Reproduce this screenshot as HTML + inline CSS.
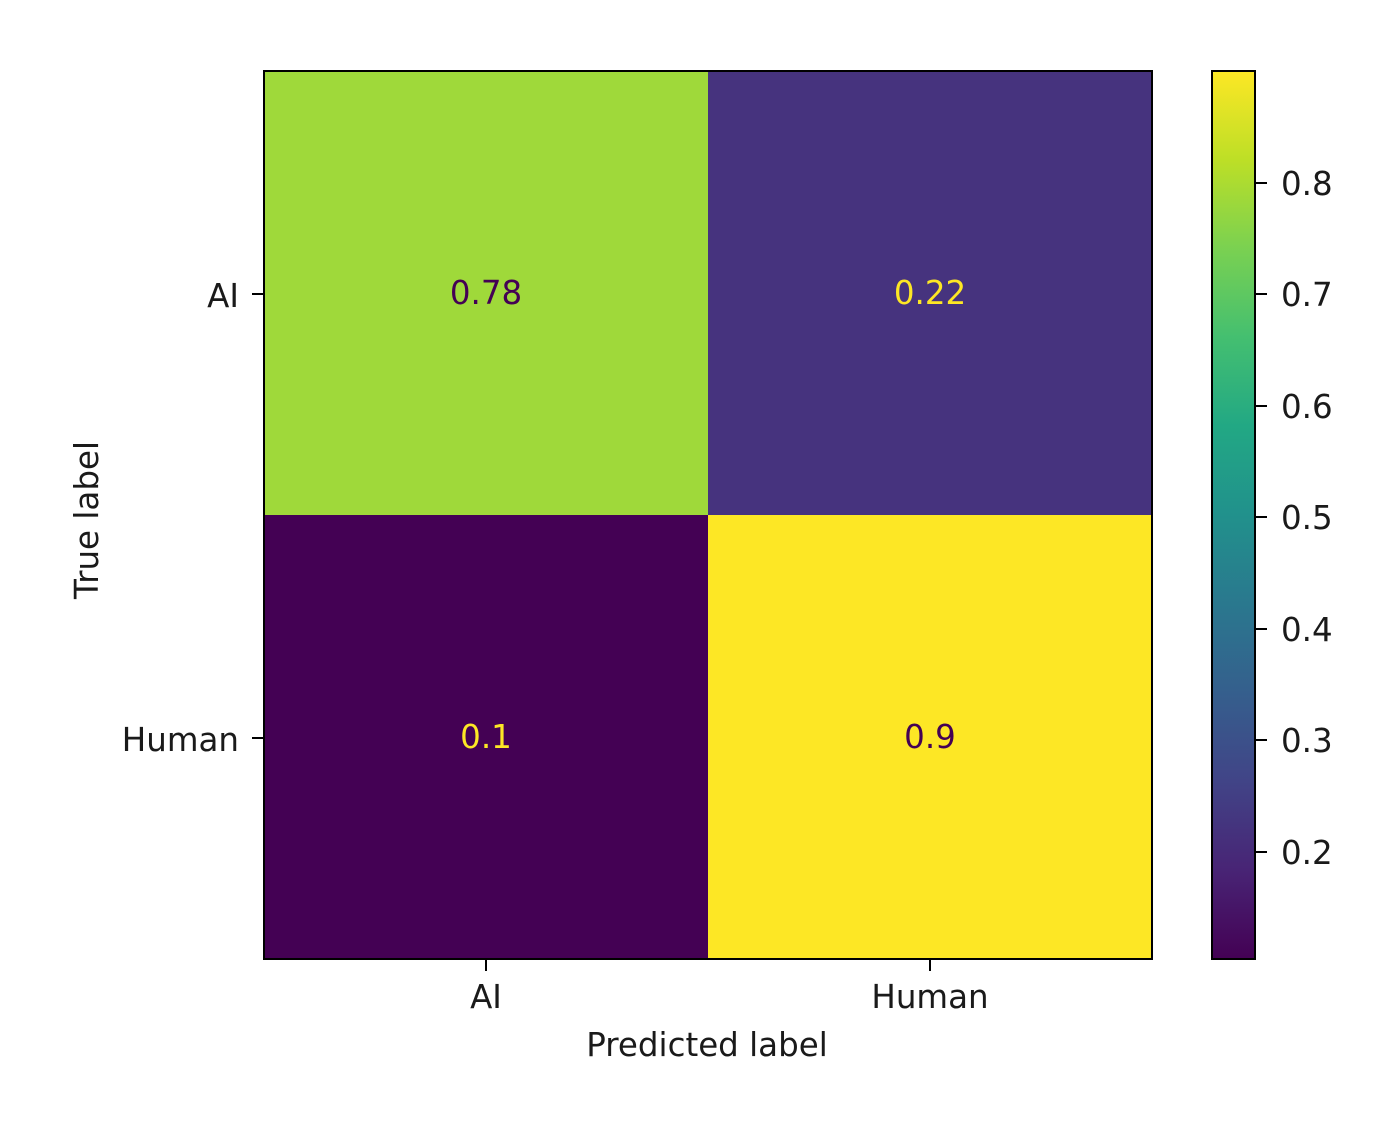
<!DOCTYPE html>
<html><head><meta charset="utf-8"><style>
html,body{margin:0;padding:0;background:#fff;}
svg text{font-family:"DejaVu Sans","Liberation Sans",sans-serif;font-size:32.5px;fill:#1a1a1a;}
</style></head><body>
<svg width="1378" height="1142" viewBox="0 0 1378 1142" xmlns="http://www.w3.org/2000/svg">
<defs>
<linearGradient id="vir" x1="0" y1="1" x2="0" y2="0">
<stop offset="0" stop-color="#440154"/>
<stop offset="0.1" stop-color="#482475"/>
<stop offset="0.2" stop-color="#414487"/>
<stop offset="0.3" stop-color="#355f8d"/>
<stop offset="0.4" stop-color="#2a788e"/>
<stop offset="0.5" stop-color="#21918c"/>
<stop offset="0.6" stop-color="#22a884"/>
<stop offset="0.7" stop-color="#44bf70"/>
<stop offset="0.8" stop-color="#7ad151"/>
<stop offset="0.9" stop-color="#bddf26"/>
<stop offset="1" stop-color="#fde725"/>
</linearGradient>
</defs>
<rect x="264" y="71" width="444" height="444" fill="#9fd93a"/>
<rect x="708" y="71" width="444" height="444" fill="#46337e"/>
<rect x="264" y="515" width="444" height="444" fill="#440154"/>
<rect x="708" y="515" width="444" height="444" fill="#fde725"/>
<rect x="264" y="71" width="888" height="888" fill="none" stroke="#000" stroke-width="2"/>
<text x="486" y="304" text-anchor="middle" style="fill:#440154">0.78</text>
<text x="930" y="304" text-anchor="middle" style="fill:#fde725">0.22</text>
<text x="486" y="748" text-anchor="middle" style="fill:#fde725">0.1</text>
<text x="930" y="748" text-anchor="middle" style="fill:#440154">0.9</text>
<g stroke="#000" stroke-width="2">
<line x1="252" y1="294" x2="264" y2="294"/>
<line x1="252" y1="738" x2="264" y2="738"/>
<line x1="486" y1="959" x2="486" y2="971"/>
<line x1="930" y1="959" x2="930" y2="971"/>
</g>
<text x="239" y="307" text-anchor="end">AI</text>
<text x="239" y="751" text-anchor="end">Human</text>
<text x="486" y="1008" text-anchor="middle">AI</text>
<text x="930" y="1008" text-anchor="middle">Human</text>
<text x="707" y="1056" text-anchor="middle">Predicted label</text>
<text transform="translate(98,520) rotate(-90)" text-anchor="middle">True label</text>
<rect x="1212" y="71" width="43" height="888" fill="url(#vir)"/>
<rect x="1212" y="71" width="43" height="888" fill="none" stroke="#000" stroke-width="2"/>
<g stroke="#000" stroke-width="2">
<line x1="1255" y1="183" x2="1267" y2="183"/>
<line x1="1255" y1="294" x2="1267" y2="294"/>
<line x1="1255" y1="406" x2="1267" y2="406"/>
<line x1="1255" y1="517" x2="1267" y2="517"/>
<line x1="1255" y1="629" x2="1267" y2="629"/>
<line x1="1255" y1="740" x2="1267" y2="740"/>
<line x1="1255" y1="852" x2="1267" y2="852"/>
</g>
<text x="1281" y="195">0.8</text>
<text x="1281" y="306">0.7</text>
<text x="1281" y="418">0.6</text>
<text x="1281" y="529">0.5</text>
<text x="1281" y="641">0.4</text>
<text x="1281" y="752">0.3</text>
<text x="1281" y="864">0.2</text>
</svg>
</body></html>
